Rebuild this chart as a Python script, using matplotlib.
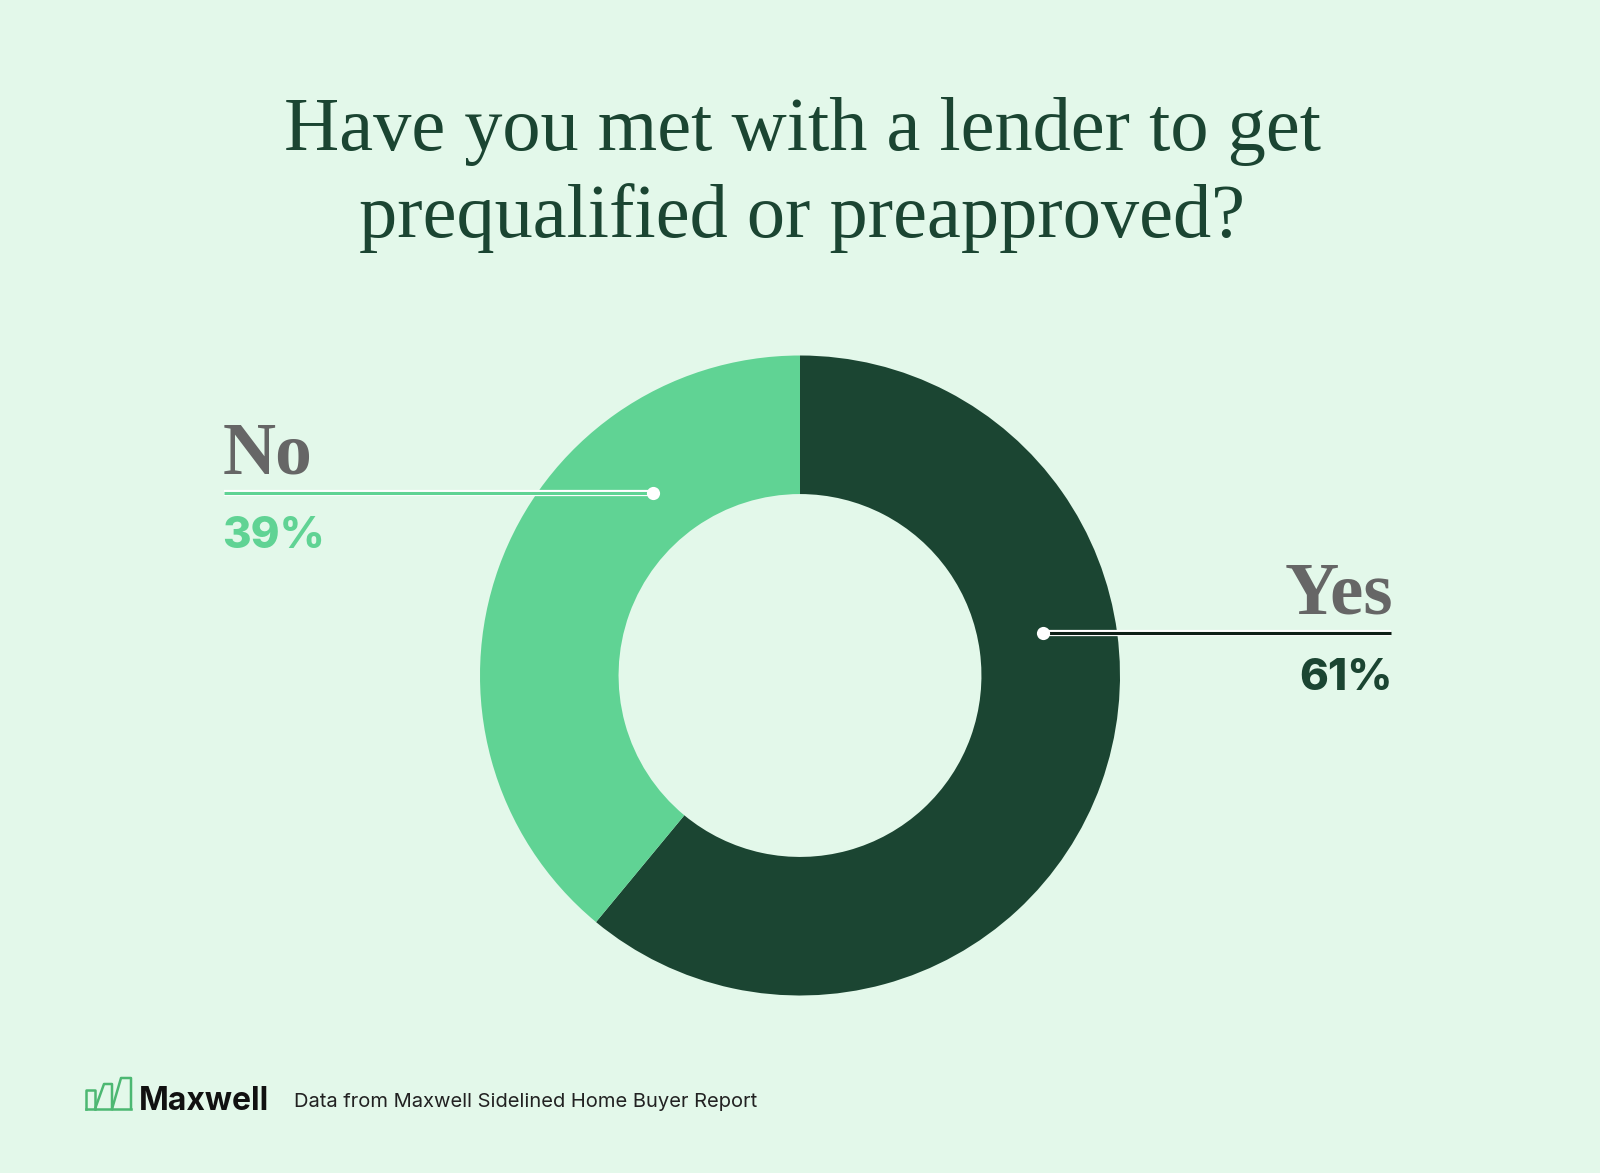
import matplotlib
matplotlib.use("Agg")
import matplotlib.pyplot as plt
import matplotlib.patheffects as pe
import numpy as np

categories = ["Yes", "No"]
values = [61, 39]
pct_labels = ["61%", "39%"]
title = "Have you met with a lender to get\nprequalified or preapproved?"
source = "Data from Maxwell Sidelined Home Buyer Report"
brand = "Maxwell"

BG = "#e3f8ea"
DARK = "#1b4532"
LIGHT = "#60d394"
GRAY = "#666666"

W, H = 1600, 1173
fig = plt.figure(figsize=(W / 100, H / 100), dpi=100, facecolor=BG)

# donut
cx, cy, R = 800, 675.5, 320
ax = fig.add_axes([(cx - R) / W, (H - cy - R) / H, 2 * R / W, 2 * R / H])
ax.set_facecolor("none")
ax.pie(values, colors=[DARK, LIGHT], startangle=90, counterclock=False,
       radius=1.0, wedgeprops=dict(width=0.433, linewidth=0))
ax.set_xlim(-1, 1)
ax.set_ylim(-1, 1)
ax.set_aspect("equal")
ax.axis("off")

# overlay in pixel coords
ov = fig.add_axes([0, 0, 1, 1])
ov.set_xlim(0, W)
ov.set_ylim(H, 0)
ov.axis("off")
ov.set_facecolor("none")

ov.text(W / 2 + 2, 175, title, ha="center", va="center", fontsize=55,
        family="Liberation Serif", color=DARK, linespacing=1.32)

# No label
nx, ny = 653, 493
ov.plot([224, nx], [ny, ny], color=LIGHT, lw=2.2,
        path_effects=[pe.Stroke(linewidth=4.5, foreground="white"), pe.Normal()],
        solid_capstyle="butt")
ov.scatter([nx], [ny], s=90, color="white", zorder=5, linewidths=0)
ov.text(223, 474, categories[1], ha="left", va="baseline", fontsize=53,
        family="Liberation Serif", fontweight="bold", color=GRAY)
ov.text(222, 548, pct_labels[1], ha="left", va="baseline", fontsize=31.5,
        family="Inter", fontweight="heavy", color=LIGHT)

# Yes label
yx, yy = 1043, 632.5
ov.plot([yx, 1391], [yy, yy], color="#0d1f16", lw=2.2,
        path_effects=[pe.Stroke(linewidth=4.5, foreground="white"), pe.Normal()],
        solid_capstyle="butt")
ov.scatter([yx], [yy], s=90, color="white", zorder=5, linewidths=0)
ov.text(1393, 613, categories[0], ha="right", va="baseline", fontsize=54,
        family="Liberation Serif", fontweight="bold", color=GRAY)
ov.text(1393, 690, pct_labels[0], ha="right", va="baseline", fontsize=31.5,
        family="Inter", fontweight="heavy", color=DARK)

# footer logo icon
lc = "#4cb872"
ov.plot([86, 86, 95, 95], [1109, 1090, 1090, 1109], color=lc, lw=1.8,
        solid_joinstyle="round")
ov.plot([95, 104, 112, 112], [1109, 1084, 1084, 1109], color=lc, lw=1.8,
        solid_joinstyle="round")
ov.plot([112, 121, 131, 131], [1109, 1078, 1078, 1109], color=lc, lw=1.8,
        solid_joinstyle="round")
ov.plot([86, 131], [1109, 1109], color=lc, lw=1.8)

ov.text(139, 1110, brand, ha="left", va="baseline", fontsize=23,
        family="Inter", fontweight="bold", color="#111111")
ov.text(294, 1107, source, ha="left", va="baseline", fontsize=14.5,
        family="Inter", color="#222222")

fig.savefig("out.png", dpi=100, facecolor=BG)
